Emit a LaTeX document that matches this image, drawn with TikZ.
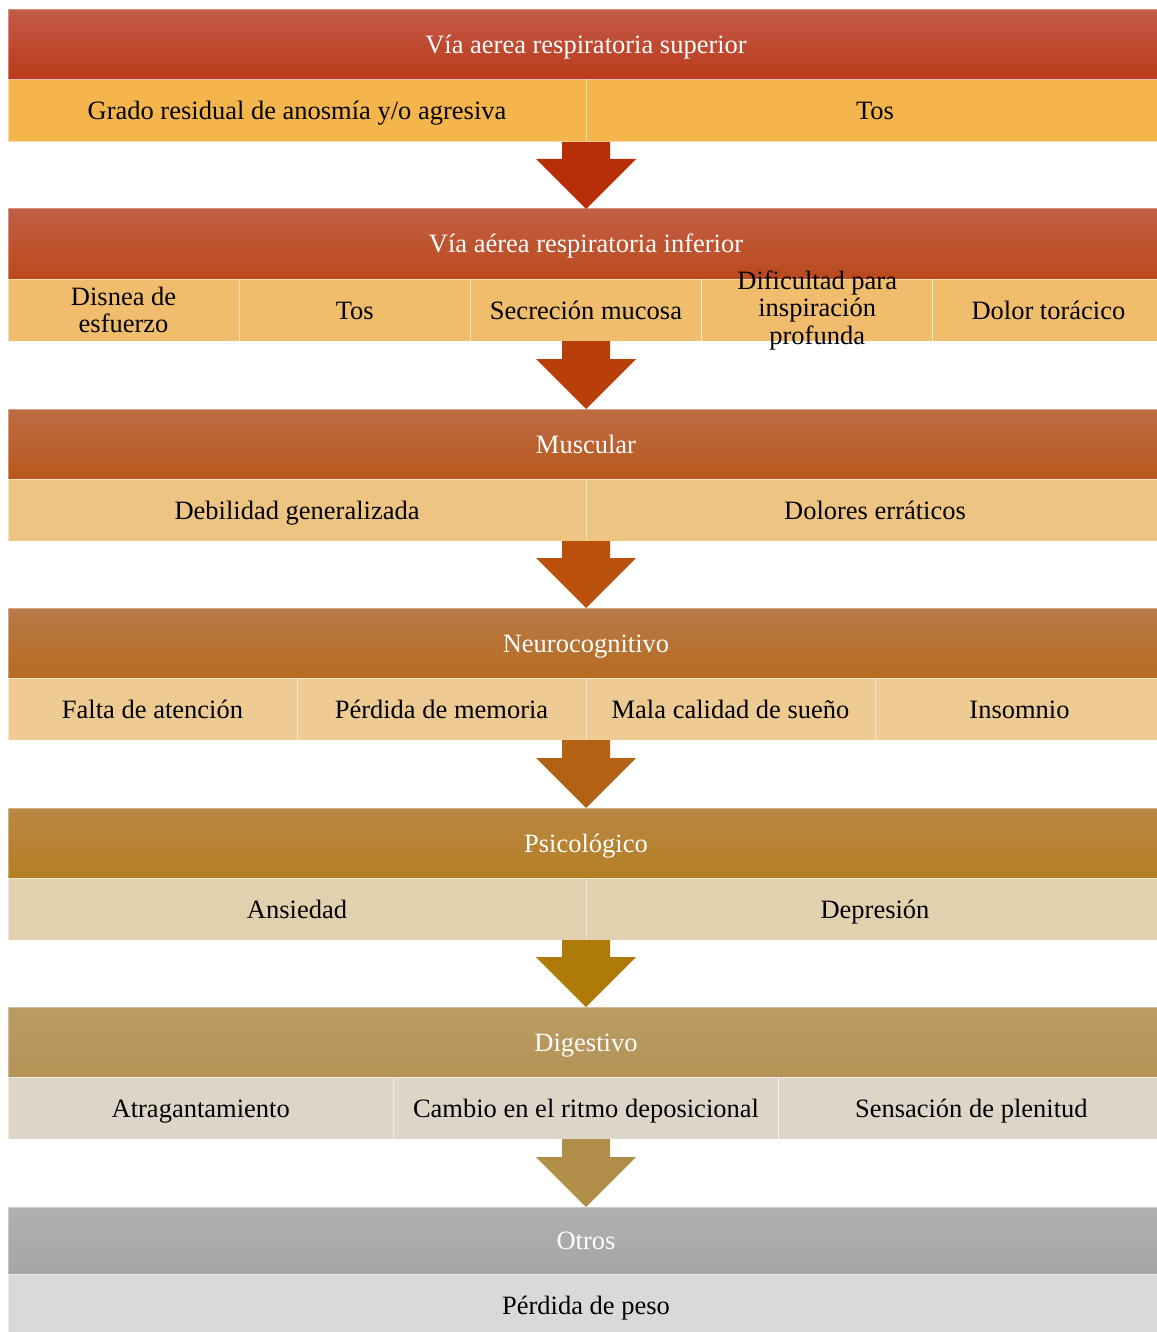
\documentclass[tikz,border=0pt]{standalone}
\usepackage{fontspec}
\setmainfont{Liberation Serif}
\usepackage{xcolor}
\usepackage{tikz}
\usetikzlibrary{
    calc
}

\definecolor{topA}{HTML}{C45A48}
\definecolor{botA}{HTML}{BA3A1A}
\definecolor{subA}{HTML}{F4B54C}
\definecolor{arrA}{HTML}{B82E08}
\definecolor{topB}{HTML}{C15F45}
\definecolor{botB}{HTML}{BB4A1C}
\definecolor{subB}{HTML}{EFBD6C}
\definecolor{arrB}{HTML}{B83E0A}
\definecolor{topC}{HTML}{BE6C46}
\definecolor{botC}{HTML}{B9571C}
\definecolor{subC}{HTML}{EEC482}
\definecolor{arrC}{HTML}{B9500C}
\definecolor{topD}{HTML}{B97A48}
\definecolor{botD}{HTML}{B56C20}
\definecolor{subD}{HTML}{EDCB92}
\definecolor{arrD}{HTML}{B26212}
\definecolor{topE}{HTML}{BA8745}
\definecolor{botE}{HTML}{B47F22}
\definecolor{subE}{HTML}{E2D1AE}
\definecolor{arrE}{HTML}{AE7A08}
\definecolor{topF}{HTML}{BA9C62}
\definecolor{botF}{HTML}{B59357}
\definecolor{subF}{HTML}{DDD5C6}
\definecolor{arrF}{HTML}{B08D48}
\definecolor{topG}{HTML}{B0B0B0}
\definecolor{botG}{HTML}{A6A6A6}
\definecolor{subG}{HTML}{D9D9D9}

% block arrow: from (#1) down to the tip (#2)
\newcommand{\stepdown}[3]{%
    \fill[#3] ($(#1)+(-24,0)$) -- ($(#2)+(-24,-50)$) -- ($(#2)+(-50,-50)$) -- (#2)
        -- ($(#2)+(50,-50)$) -- ($(#2)+(24,-50)$) -- ($(#1)+(24,0)$) -- cycle;}

\begin{document}
\begin{tikzpicture}[x=1pt,y=-1pt,font=\fontsize{26.5}{27.5}\selectfont]
    \tikzstyle{header}=[rectangle, minimum width=1156pt, minimum height=70pt, inner sep=0pt, outer sep=0pt, text=white, draw=white, draw opacity=0.35, line width=1pt, text height=21pt, text depth=3pt]
    \tikzstyle{cell}=[rectangle, minimum height=62pt, inner sep=1pt, outer sep=0pt, align=center, draw=white, draw opacity=0.5, line width=1pt, text=black]
    \tikzstyle{oneline}=[text height=21pt, text depth=3pt]
    \useasboundingbox (0,0) rectangle (1156,1332);

    \node [header, top color=topA, bottom color=botA] (h1) at (586, 45) {Vía aerea respiratoria superior};
    \node [cell, oneline, fill=subA, minimum width=578pt] (s1a) at (297, 111) {Grado residual de anosmía y/o agresiva};
    \node [cell, oneline, fill=subA, minimum width=578pt] (s1b) at (875, 111) {Tos};
    \coordinate (b1) at (586, 142);

    \node [header, top color=topB, bottom color=botB] (h2) at (586, 244) {Vía aérea respiratoria inferior};
    \node [cell, fill=subB, minimum width=231.2pt] (s2a) at (123.6, 310) {Disnea de\\esfuerzo};
    \node [cell, oneline, fill=subB, minimum width=231.2pt] (s2b) at (354.8, 310) {Tos};
    \node [cell, oneline, fill=subB, minimum width=231.2pt] (s2c) at (586, 310) {Secreción mucosa};
    \node [cell, fill=subB, minimum width=231.2pt] (s2d) at (817.2, 310) {};
    \node [align=center, inner sep=0pt] (s2dtext) at (s2d) {Dificultad para\\inspiración\\profunda};
    \node [cell, oneline, fill=subB, minimum width=231.2pt] (s2e) at (1048.4, 310) {Dolor torácico};
    \coordinate (b2) at (586, 341);

    \node [header, top color=topC, bottom color=botC] (h3) at (586, 444) {Muscular};
    \node [cell, oneline, fill=subC, minimum width=578pt] (s3a) at (297, 510) {Debilidad generalizada};
    \node [cell, oneline, fill=subC, minimum width=578pt] (s3b) at (875, 510) {Dolores erráticos};
    \coordinate (b3) at (586, 541);

    \node [header, top color=topD, bottom color=botD] (h4) at (586, 643) {Neurocognitivo};
    \node [cell, oneline, fill=subD, minimum width=289pt] (s4a) at (152.5, 709) {Falta de atención};
    \node [cell, oneline, fill=subD, minimum width=289pt] (s4b) at (441.5, 709) {Pérdida de memoria};
    \node [cell, oneline, fill=subD, minimum width=289pt] (s4c) at (730.5, 709) {Mala calidad de sueño};
    \node [cell, oneline, fill=subD, minimum width=289pt] (s4d) at (1019.5, 709) {Insomnio};
    \coordinate (b4) at (586, 740);

    \node [header, top color=topE, bottom color=botE] (h5) at (586, 843) {Psicológico};
    \node [cell, oneline, fill=subE, minimum width=578pt] (s5a) at (297, 909) {Ansiedad};
    \node [cell, oneline, fill=subE, minimum width=578pt] (s5b) at (875, 909) {Depresión};
    \coordinate (b5) at (586, 940);

    \node [header, top color=topF, bottom color=botF] (h6) at (586, 1042) {Digestivo};
    \node [cell, oneline, fill=subF, minimum width=385.33pt] (s6a) at (200.7, 1108) {Atragantamiento};
    \node [cell, oneline, fill=subF, minimum width=385.33pt] (s6b) at (586, 1108) {Cambio en el ritmo deposicional};
    \node [cell, oneline, fill=subF, minimum width=385.33pt] (s6c) at (971.3, 1108) {Sensación de plenitud};
    \coordinate (b6) at (586, 1139);

    \node [header, top color=topG, bottom color=botG, minimum height=67pt] (h7) at (586, 1240.5) {Otros};
    \node [cell, oneline, fill=subG, minimum width=1156pt] (s7a) at (586, 1305) {Pérdida de peso};

    \stepdown{b1}{h2.north}{arrA}
    \stepdown{b2}{h3.north}{arrB}
    \stepdown{b3}{h4.north}{arrC}
    \stepdown{b4}{h5.north}{arrD}
    \stepdown{b5}{h6.north}{arrE}
    \stepdown{b6}{h7.north}{arrF}
\end{tikzpicture}
\end{document}
